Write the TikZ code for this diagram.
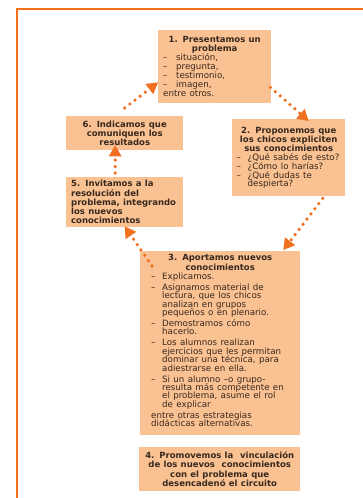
\documentclass[tikz,border=0pt]{standalone}
\usepackage{fontspec}
\setmainfont{DejaVu Sans}
\usetikzlibrary{arrows.meta}
\setlength{\parindent}{0pt}
\setlength{\parskip}{0pt}
\definecolor{peach}{RGB}{250,193,146}
\definecolor{arrc}{RGB}{240,112,32}
\definecolor{framec}{RGB}{245,112,24}
\definecolor{txt}{RGB}{55,40,30}
\newcommand\tfont{\fontsize{8.5}{9.3}\selectfont\bfseries\lineskiplimit=-20pt\relax}
\newcommand\bfont{\fontsize{8.7}{8.4}\selectfont\mdseries\lineskiplimit=-20pt\relax}
% \itm{gap}{indent}{text}
\newcommand\itm[3]{\par\vskip#1\hangindent=#2\hangafter=1\makebox[#2][l]{–}#3}
\newcommand\pln[2]{\par\vskip#1\hangindent=0pt #2}
\begin{document}
\begin{tikzpicture}[x=1pt,y=-1pt,
  box/.style={fill=peach, text=txt, anchor=north west, inner ysep=2pt},
  arr/.style={draw=arrc, line width=3.6pt, dash pattern=on 0pt off 6.5pt, line cap=round,
    -{Triangle[width=13pt,length=11pt,line width=0pt,fill=arrc]}},
  framel/.style={draw=framec, line width=2pt}]
\useasboundingbox (0,0) rectangle (363,498);
\draw[framel] (17,498) -- (17,9) -- (363,9);

\node[box, text width=103pt, inner xsep=5pt, minimum height=73pt] (b1) at (158,30)
 {\tfont\centering 1. Presentamos un\\problema\par
  \bfont\raggedright
  \itm{0pt}{13pt}{situación,}
  \itm{0.8pt}{13pt}{pregunta,}
  \itm{0.8pt}{13pt}{testimonio,}
  \itm{0.8pt}{13pt}{imagen,}
  \pln{0.8pt}{entre otros.}\par};

\node[box, text width=104pt, inner xsep=4.5pt, minimum height=77pt] (b2) at (232,119)
 {\tfont\centering 2. Proponemos que\\los chicos expliciten\\sus conocimientos\par
  \bfont\raggedright
  \itm{0pt}{11pt}{\mbox{¿Qué sabés de esto?}}
  \itm{0.8pt}{11pt}{\mbox{¿Cómo lo harías?}}
  \itm{0.8pt}{11pt}{¿Qué dudas te\newline despierta?}\par};

\node[box, text width=107pt, inner xsep=5pt, minimum height=34pt] (b6) at (66,116)
 {\tfont\centering 6. Indicamos que\\comuniquen los\\resultados\par};

\node[box, text width=107pt, inner xsep=5pt, minimum height=50pt] (b5) at (66,177)
 {\tfont\raggedright 5. Invitamos a la\\resolución del\\problema, integrando\\los nuevos\\conocimientos\par};

\node[box, text width=138pt, inner xsep=11pt, minimum height=184pt] (b3) at (140,251)
 {\tfont\centering 3. Aportamos nuevos\\conocimientos\par
  \bfont\raggedright
  \itm{0.6pt}{11pt}{Explicamos.}
  \itm{2.6pt}{11pt}{Asignamos material de\newline lectura, que los chicos\newline analizan en grupos\newline pequeños o en plenario.}
  \itm{2.6pt}{11pt}{Demostramos cómo\newline hacerlo.}
  \itm{2.6pt}{11pt}{Los alumnos realizan\newline ejercicios que les permitan\newline dominar una técnica, para\newline adiestrarse en ella.}
  \itm{2.6pt}{11pt}{Si un alumno –o grupo-\newline resulta más competente en\newline el problema, asume el rol\newline de explicar}
  \pln{2.6pt}{entre otras estrategias\newline didácticas alternativas.}\par
  \vspace*{5pt}};

\node[box, text width=151pt, inner xsep=5pt, minimum height=44pt] (b4) at (139,447)
 {\tfont\centering 4. Promovemos la\ \ vinculación\\de los nuevos\ \ conocimientos\\con el problema que\\desencadenó el circuito\par};

\draw[arr] ([yshift=8pt]b6.north) -- ([yshift=21pt]b1.south west);
\draw[arr] ([xshift=-1pt,yshift=16pt]b1.south east) -- ([xshift=20pt,yshift=-2pt]b2.north);
\draw[arr] ([xshift=34pt,yshift=-2pt]b2.south) -- ([xshift=-17pt,yshift=1pt]b3.north east);
\draw[arr] ([xshift=12pt,yshift=-15pt]b3.north west) -- ([yshift=1pt]b5.south);
\draw[arr] ([xshift=-9.5pt,yshift=4pt]b5.north) -- ([xshift=-9.5pt,yshift=5pt]b6.south);
\end{tikzpicture}
\end{document}
